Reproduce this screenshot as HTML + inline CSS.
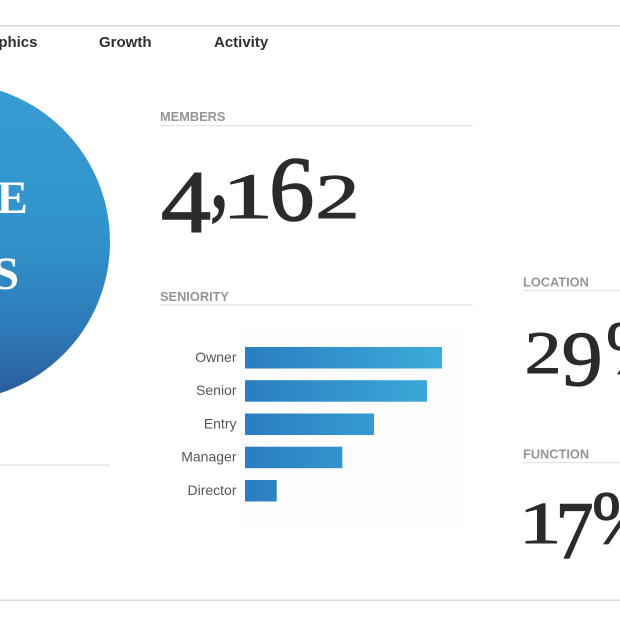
<!DOCTYPE html>
<html>
<head>
<meta charset="utf-8">
<style>
  html, body { margin: 0; padding: 0; background: #ffffff; }
  body { width: 620px; height: 620px; overflow: hidden; }
  svg { display: block; }
</style>
</head>
<body>
<svg width="620" height="620" viewBox="0 0 620 620" xmlns="http://www.w3.org/2000/svg">
  <defs>
    <linearGradient id="circ" x1="0" y1="83" x2="0" y2="401" gradientUnits="userSpaceOnUse">
      <stop offset="0" stop-color="#379cd3"/>
      <stop offset="0.5" stop-color="#3192ca"/>
      <stop offset="0.78" stop-color="#2e79b7"/>
      <stop offset="1" stop-color="#2a5a98"/>
    </linearGradient>
    <linearGradient id="bar" x1="245" y1="0" x2="442" y2="0" gradientUnits="userSpaceOnUse">
      <stop offset="0" stop-color="#2a7dc0"/>
      <stop offset="1" stop-color="#3cabda"/>
    </linearGradient>
  </defs>

  <rect width="620" height="620" fill="#ffffff"/>

  <!-- top rule -->
  <rect x="0" y="25" width="620" height="1.6" fill="#dadada"/>

  <!-- nav -->
  <g font-family="Liberation Sans, Arial, sans-serif" font-weight="bold" font-size="15" fill="#2e2e2e">
    <text x="37.5" y="47" text-anchor="end">Demographics</text>
    <text x="99" y="47">Growth</text>
    <text x="214" y="47">Activity</text>
  </g>

  <!-- circle -->
  <circle cx="-49" cy="242" r="159" fill="url(#circ)"/>
  <g font-family="Liberation Serif, Times New Roman, serif" font-weight="bold" font-size="47" fill="#ffffff">
    <text x="28" y="213" text-anchor="end">BY THE</text>
    <text x="19" y="289" text-anchor="end">NUMBERS</text>
  </g>
  <rect x="0" y="464.5" width="110" height="1.2" fill="#dedede"/>

  <!-- section labels -->
  <g font-family="Liberation Sans, Arial, sans-serif" font-weight="bold" font-size="12.8" fill="#959595">
    <text x="160" y="121">MEMBERS</text>
    <text x="160" y="301">SENIORITY</text>
    <text x="523" y="286.5">LOCATION</text>
    <text x="523" y="458.5">FUNCTION</text>
  </g>
  <rect x="160" y="125" width="313" height="1.2" fill="#e3e3e3"/>
  <rect x="160" y="304.5" width="313" height="1.2" fill="#e3e3e3"/>
  <rect x="523" y="290" width="97" height="1.2" fill="#e3e3e3"/>
  <rect x="523" y="462" width="97" height="1.2" fill="#e3e3e3"/>

  <!-- big number 4,162 (old-style figure imitation) -->
  <g font-family="Liberation Serif, Times New Roman, serif" font-size="100" fill="#2b2b2b" stroke="#2b2b2b" stroke-width="1.6">
    <text transform="translate(161,232) scale(1.0,0.888)">4</text>
    <text transform="translate(210,207) scale(0.75,1.05)">,</text>
    <text transform="translate(221.7,218) scale(1.03,0.65)">1</text>
    <text transform="translate(269.3,220) scale(0.9,0.917)">6</text>
    <text transform="translate(315.3,218) scale(0.89,0.636)">2</text>
  </g>

  <!-- 29% -->
  <g font-family="Liberation Serif, Times New Roman, serif" font-size="100" fill="#2b2b2b" stroke="#2b2b2b" stroke-width="1.6">
    <text transform="translate(524.8,373) scale(0.733,0.607)">2</text>
    <text transform="translate(561.7,385) scale(0.814,0.784)">9</text>
    <text transform="translate(606,373) scale(0.75,0.75)">%</text>
  </g>

  <!-- 17% -->
  <g font-family="Liberation Serif, Times New Roman, serif" font-size="100" fill="#2b2b2b" stroke="#2b2b2b" stroke-width="1.6">
    <text transform="translate(518.6,543) scale(0.857,0.592)">1</text>
    <text transform="translate(555.5,558) scale(0.76,0.814)">7</text>
    <text transform="translate(592,543) scale(0.75,0.75)">%</text>
  </g>

  <!-- chart background -->
  <rect x="240" y="327" width="225" height="195" fill="#fcfcfc"/>

  <!-- bars -->
  <g fill="url(#bar)">
    <rect x="245" y="347" width="197" height="21.5"/>
    <rect x="245" y="380.2" width="182" height="21.5"/>
    <rect x="245" y="413.5" width="129" height="21.5"/>
    <rect x="245" y="446.7" width="97.3" height="21.5"/>
    <rect x="245" y="480" width="31.7" height="21.5"/>
  </g>
  <g font-family="Liberation Sans, Arial, sans-serif" font-size="14" fill="#555555" text-anchor="end">
    <text x="236.5" y="362">Owner</text>
    <text x="236.5" y="395">Senior</text>
    <text x="236.5" y="428.3">Entry</text>
    <text x="236.5" y="461.5">Manager</text>
    <text x="236.5" y="494.8">Director</text>
  </g>

  <!-- bottom rule -->
  <rect x="0" y="599.5" width="620" height="1.6" fill="#dcdcdc"/>
</svg>
</body>
</html>
